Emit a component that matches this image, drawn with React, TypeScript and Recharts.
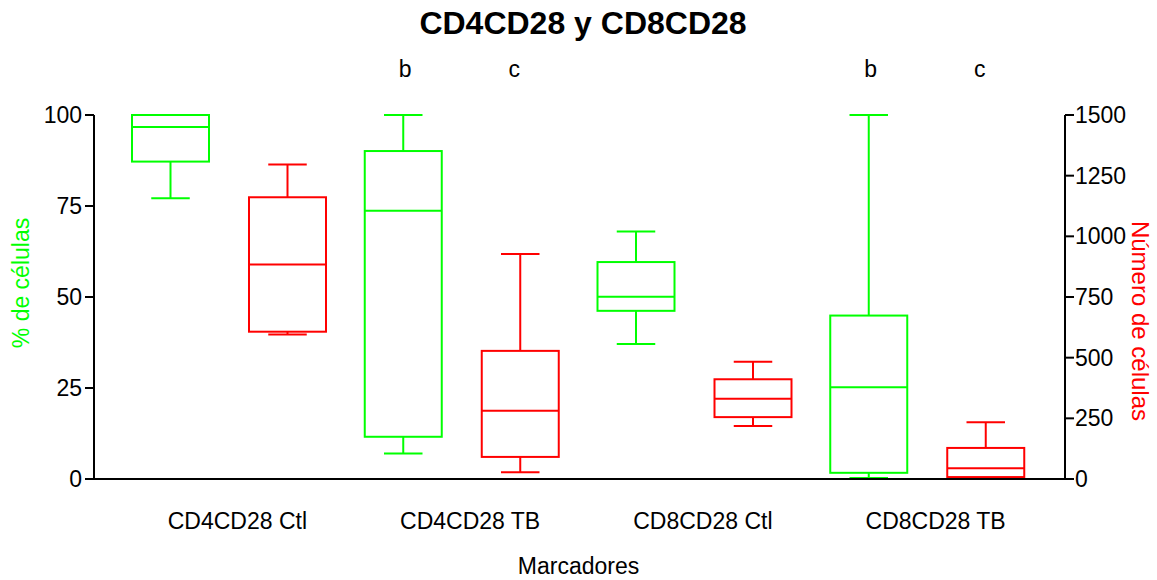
import React from 'react';
import { BarChart, Bar, XAxis, YAxis, LabelList, Label } from 'recharts';

const categories = ['CD4CD28 Ctl', 'CD4CD28 TB', 'CD8CD28 Ctl', 'CD8CD28 TB'];

// % de células (left axis, green)
const pctMin = [77.1, 7.0, 37.1, 0.3];
const pctQ1 = [87.2, 11.6, 46.2, 1.7];
const pctMedian = [96.7, 73.7, 50.1, 25.2];
const pctQ3 = [100, 90.1, 59.6, 44.9];
const pctMax = [100, 100, 68.0, 100];

// Número de células (right axis, red)
const numMin = [595, 28, 218, 3];
const numQ1 = [607, 91, 255, 8];
const numMedian = [884, 281, 331, 44];
const numQ3 = [1161, 528, 411, 128];
const numMax = [1296, 927, 483, 234];

const pctLetters = ['', 'b', '', 'b'];
const numLetters = ['', 'c', '', 'c'];

const pctTicks = [0, 25, 50, 75, 100];
const numTicks = [0, 250, 500, 750, 1000, 1250, 1500];

const GREEN = '#00ff00';
const RED = '#ff0000';
const FONT = 'Arial, "Liberation Sans", sans-serif';

const data = categories.map((name, i) => ({
    name,
    pctRange: [pctMin[i], pctMax[i]],
    pctMin: pctMin[i],
    pctQ1: pctQ1[i],
    pctMedian: pctMedian[i],
    pctQ3: pctQ3[i],
    pctMax: pctMax[i],
    pctLetter: pctLetters[i],
    numRange: [numMin[i], numMax[i]],
    numMin: numMin[i],
    numQ1: numQ1[i],
    numMedian: numMedian[i],
    numQ3: numQ3[i],
    numMax: numMax[i],
    numLetter: numLetters[i],
}));

// draws one box + whiskers inside the rect recharts gives for [min, max]
const BoxShape = (props: any) => {
    const { x, width, payload, prefix, color } = props;
    let { y, height } = props;
    if (height < 0) {
        y = y + height;
        height = -height;
    }
    const lo = payload[prefix + 'Min'];
    const hi = payload[prefix + 'Max'];
    const k = hi - lo === 0 ? 0 : height / (hi - lo);
    const yv = (v: number) => y + (hi - v) * k;
    const cx = x + width / 2;
    const cap = width / 4;
    const q1 = yv(payload[prefix + 'Q1']);
    const q3 = yv(payload[prefix + 'Q3']);
    const med = yv(payload[prefix + 'Median']);
    const top = yv(hi);
    const bot = yv(lo);
    return (
        <g stroke={color} strokeWidth={2} fill="none">
            <line x1={cx} x2={cx} y1={top} y2={q3} />
            <line x1={cx - cap} x2={cx + cap} y1={top} y2={top} />
            <line x1={cx} x2={cx} y1={q1} y2={bot} />
            <line x1={cx - cap} x2={cx + cap} y1={bot} y2={bot} />
            <rect x={x} y={q3} width={width} height={Math.max(q1 - q3, 0)} />
            <line x1={x} x2={x + width} y1={med} y2={med} />
        </g>
    );
};

const LetterLabel = (props: any) => {
    const { x, width, value, dx } = props;
    if (!value) return null;
    return (
        <text x={x + width / 2 + dx} y={77} textAnchor="middle" fontSize={23} fontFamily={FONT} fill="#000">
            {value}
        </text>
    );
};

const XTick = (props: any) => {
    const { x, y, payload } = props;
    return (
        <text x={x + 8} y={y} dy={16} textAnchor="middle" fontSize={23} fontFamily={FONT} fill="#000">
            {payload.value}
        </text>
    );
};

const AxisTitle = (props: any) => {
    const { viewBox, text, color, cx, dy, angle, size } = props;
    const px = viewBox.x + cx;
    const py = viewBox.y + viewBox.height / 2 + dy;
    return (
        <text
            x={px}
            y={py}
            transform={`rotate(${angle} ${px} ${py})`}
            textAnchor="middle"
            dominantBaseline="central"
            fontSize={size}
            fontFamily={FONT}
            fill={color}
        >
            {text}
        </text>
    );
};

const App: React.FC = () => {
    return (
        <div style={{ position: 'relative', width: 1157, height: 580, background: '#fff' }}>
            <style>{`body { margin: 0; }`}</style>
            <div
                style={{
                    position: 'absolute',
                    top: 5,
                    left: 0,
                    width: 1157,
                    paddingLeft: 9,
                    boxSizing: 'border-box',
                    textAlign: 'center',
                    fontFamily: FONT,
                    fontWeight: 'bold',
                    fontSize: 32,
                    color: '#000',
                }}
            >
                CD4CD28 y CD8CD28
            </div>
            <BarChart
                width={1157}
                height={580}
                data={data}
                margin={{ top: 115, right: 0, bottom: 0, left: 0 }}
                barSize={77}
                barGap={40}
            >
                <XAxis
                    dataKey="name"
                    height={101}
                    padding={{ left: 19, right: 21 }}
                    axisLine={{ stroke: '#000', strokeWidth: 2 }}
                    tickLine={false}
                    tickMargin={28}
                    tick={<XTick />}
                    interval={0}
                >
                    <Label
                        content={(p: any) => (
                            <text
                                x={p.viewBox.x + p.viewBox.width / 2 - 1}
                                y={p.viewBox.y + 95}
                                textAnchor="middle"
                                fontSize={23}
                                fontFamily={FONT}
                                fill="#000"
                            >
                                Marcadores
                            </text>
                        )}
                    />
                </XAxis>
                <YAxis
                    yAxisId="left"
                    width={94}
                    domain={[0, 100]}
                    ticks={pctTicks}
                    interval={0}
                    axisLine={{ stroke: '#000', strokeWidth: 2 }}
                    tickLine={{ stroke: '#000', strokeWidth: 2 }}
                    tickSize={9}
                    tickMargin={3}
                    tick={{ fill: '#000', fontSize: 23, fontFamily: FONT }}
                >
                    <Label content={(p: any) => <AxisTitle {...p} text="% de células" color={GREEN} cx={21} dy={-14} angle={-90} size={23} />} />
                </YAxis>
                <YAxis
                    yAxisId="right"
                    orientation="right"
                    width={92}
                    domain={[0, 1500]}
                    ticks={numTicks}
                    interval={0}
                    axisLine={{ stroke: '#000', strokeWidth: 2 }}
                    tickLine={{ stroke: '#000', strokeWidth: 2 }}
                    tickSize={9}
                    tickMargin={1}
                    tick={{ fill: '#000', fontSize: 23, fontFamily: FONT }}
                >
                    <Label content={(p: any) => <AxisTitle {...p} text="Número de células" color={RED} cx={75} dy={24} angle={90} size={24} />} />
                </YAxis>
                <Bar
                    yAxisId="left"
                    dataKey="pctRange"
                    isAnimationActive={false}
                    shape={(p: any) => <BoxShape {...p} prefix="pct" color={GREEN} />}
                >
                    <LabelList dataKey="pctLetter" content={(p: any) => <LetterLabel {...p} dx={2} />} />
                </Bar>
                <Bar
                    yAxisId="right"
                    dataKey="numRange"
                    isAnimationActive={false}
                    shape={(p: any) => <BoxShape {...p} prefix="num" color={RED} />}
                >
                    <LabelList dataKey="numLetter" content={(p: any) => <LetterLabel {...p} dx={-6} />} />
                </Bar>
            </BarChart>
        </div>
    );
};

export default App;
